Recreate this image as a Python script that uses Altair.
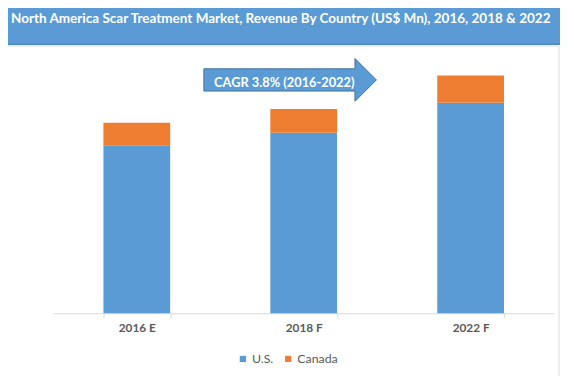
import altair as alt
import pandas as pd

years = ["2016 E", "2018 F", "2022 F"]
us_values = [170.5, 183.0, 213.5]
canada_values = [22.7, 24.2, 27.7]
countries = ["U.S.", "Canada"]
colors = ["#5B9BD5", "#ED7D31"]
title_text = "North America Scar Treatment Market, Revenue By Country (US$ Mn), 2016, 2018 & 2022"
cagr_text = "CAGR 3.8% (2016-2022)"

rows = []
for y, u, c in zip(years, us_values, canada_values):
    rows.append({"year": y, "country": "U.S.", "value": u, "ord": 0})
    rows.append({"year": y, "country": "Canada", "value": c, "ord": 1})
df = pd.DataFrame(rows)
one = pd.DataFrame({"a": [0]})

FONT = "Lato"

bars = alt.Chart(df).mark_bar().encode(
    x=alt.X("year:N", sort=years, title=None,
            scale=alt.Scale(paddingInner=0.6, paddingOuter=0.3),
            axis=alt.Axis(labelAngle=0, labelFont=FONT, labelFontSize=12, labelFontWeight="bold",
                          labelColor="#595959", domainColor="#D9D9D9", tickColor="#D9D9D9",
                          tickSize=5, tickBand="extent", labelPadding=5, grid=False)),
    y=alt.Y("value:Q", stack="zero", title=None,
            scale=alt.Scale(domain=[0, 307], nice=False), axis=None),
    color=alt.Color("country:N", scale=alt.Scale(domain=countries, range=colors),
                    legend=alt.Legend(title=None, orient="none", direction="horizontal",
                                      legendX=186, legendY=347, symbolType="square",
                                      symbolSize=40, symbolStrokeWidth=0, labelFont=FONT,
                                      labelFontSize=12.5, labelColor="#595959", columnPadding=8,
                                      labelOffset=3)),
    order=alt.Order("ord:Q"),
)

frame = alt.Chart(one).mark_rect(fill=None, stroke="#D9D9D9", strokeWidth=1).encode(
    x=alt.value(-60), x2=alt.value(513), y=alt.value(36), y2=alt.value(420)
)

title_bar = alt.Chart(one).mark_rect(color="#5B9BD5", cornerRadiusTopRight=8).encode(
    x=alt.value(-60), x2=alt.value(514), y=alt.value(-10), y2=alt.value(34)
)
title_line = alt.Chart(one).mark_rule(color="#4A86C0", strokeWidth=1.5).encode(
    x=alt.value(-60), x2=alt.value(514), y=alt.value(34)
)
title = alt.Chart(one).mark_text(text=title_text, align="left", baseline="middle", font=FONT,
                                 fontSize=13.7, fontWeight="bold", color="white").encode(
    x=alt.value(-43), y=alt.value(8.5)
)

arrow_path = "M -1 -0.129 L 0.752 -0.129 L 0.752 -0.248 L 1 0 L 0.752 0.248 L 0.752 0.129 L -1 0.129 Z"
arrow = alt.Chart(one).mark_point(shape=arrow_path, filled=True, fill="#5B9BD5", stroke="#41719C",
                                  strokeWidth=1, opacity=1, size=30625).encode(
    x=alt.value(240.2), y=alt.value(70.3)
)
arrow_text = alt.Chart(one).mark_text(text=cagr_text, align="center", baseline="middle", font=FONT,
                                      fontSize=13, fontWeight="bold", color="white").encode(
    x=alt.value(234.3), y=alt.value(73.5)
)

chart = alt.layer(frame, title_bar, title_line, title, bars, arrow, arrow_text).properties(
    width=508, height=307,
    autosize=alt.AutoSizeParams(type="none"),
    padding={"left": 46, "top": 0, "right": 7, "bottom": 61},
).configure_view(strokeWidth=0)

chart.save("out.html", embed_options={"renderer": "svg", "actions": False})
